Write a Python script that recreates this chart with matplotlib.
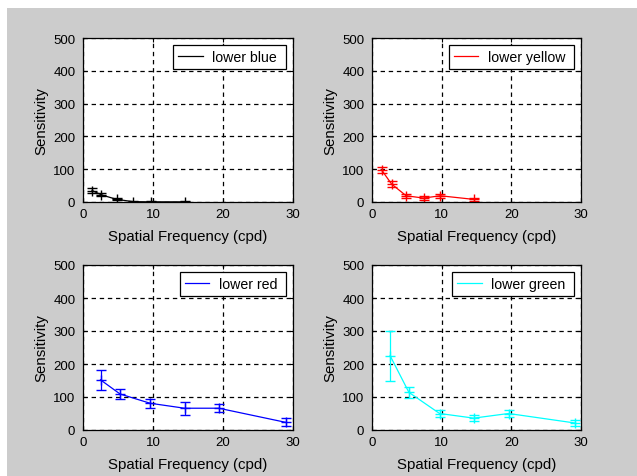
import matplotlib as mpl
mpl.use('Agg')
import matplotlib.pyplot as plt
from matplotlib.patches import Rectangle

plt.rcParams['font.family'] = ['Liberation Sans', 'DejaVu Sans']
plt.rcParams['font.size'] = 10.8

# lower blue
blue_x = [1.3, 2.6, 4.8, 7.2, 9.7, 14.5]
blue_y = [35, 22, 8, 1, 0.5, 0.5]
blue_err = [8, 5, 3, 2, 2, 2]

# lower yellow
yellow_x = [1.4, 2.8, 4.9, 7.4, 9.8, 14.6]
yellow_y = [97, 55, 19, 12, 19, 8]
yellow_err = [10, 9, 6, 5, 6, 4]

# lower red
red_x = [2.5, 5.3, 9.6, 14.5, 19.4, 29.0]
red_y = [152, 109, 81, 66, 66, 23]
red_err = [30, 15, 14, 20, 12, 12]

# lower green
green_x = [2.6, 5.3, 9.7, 14.6, 19.6, 29.2]
green_y = [225, 114, 50, 36, 50, 21]
green_err = [75, 17, 12, 10, 12, 8]

panels = [
    (blue_x, blue_y, blue_err, 'k', 'lower blue'),
    (yellow_x, yellow_y, yellow_err, '#ff0000', 'lower yellow'),
    (red_x, red_y, red_err, '#0000ff', 'lower red'),
    (green_x, green_y, green_err, '#00ffff', 'lower green'),
]

W, H = 637, 477
fig = plt.figure(figsize=(W / 100, H / 100), dpi=100, facecolor='white')
fig.patches.append(Rectangle((7 / W, 0), 1, 1 - 9 / H, transform=fig.transFigure,
                             facecolor='#cccccc', edgecolor='none', zorder=-10))

# axes boxes in pixels: left, top, right, bottom
boxes = [(83, 39, 293, 203), (372, 39, 581, 203),
         (83, 266, 293, 431), (372, 266, 581, 431)]

for (x, y, err, color, label), (l, t, r, b) in zip(panels, boxes):
    ax = fig.add_axes([l / W, (H - b) / H, (r - l) / W, (b - t) / H])
    ax.errorbar(x, y, yerr=err, color=color, linewidth=0.9, elinewidth=0.9,
                capsize=3.5, marker='+', markersize=7)
    line, = ax.plot([], [], color=color, linewidth=0.9, label=label)
    ax.set_xlim(0, 30)
    ax.set_ylim(0, 500)
    ax.set_xticks([0, 10, 20, 30])
    ax.set_yticks([0, 100, 200, 300, 400, 500])
    ax.grid(True, color='black', linestyle=(0, (3.5, 3)), linewidth=0.9)
    ax.tick_params(direction='in', length=3, top=True, right=True,
                   labelsize=9.5)
    ax.tick_params(axis='x', pad=4.5)
    ax.tick_params(axis='y', pad=5.5)
    for s in ax.spines.values():
        s.set_linewidth(0.9)
    ax.set_xlabel('Spatial Frequency (cpd)', labelpad=6.5)
    ax.set_ylabel('Sensitivity', labelpad=3.5)
    leg = ax.legend(handles=[line], labels=[label + ' '], loc='upper right',
                    fancybox=False, edgecolor='black', framealpha=1,
                    fontsize=10.2, handlelength=1.75, borderaxespad=0.5,
                    handletextpad=0.65, borderpad=0.35)
    leg.get_frame().set_linewidth(0.9)

fig.savefig('out.png', dpi=100, facecolor=fig.get_facecolor())
